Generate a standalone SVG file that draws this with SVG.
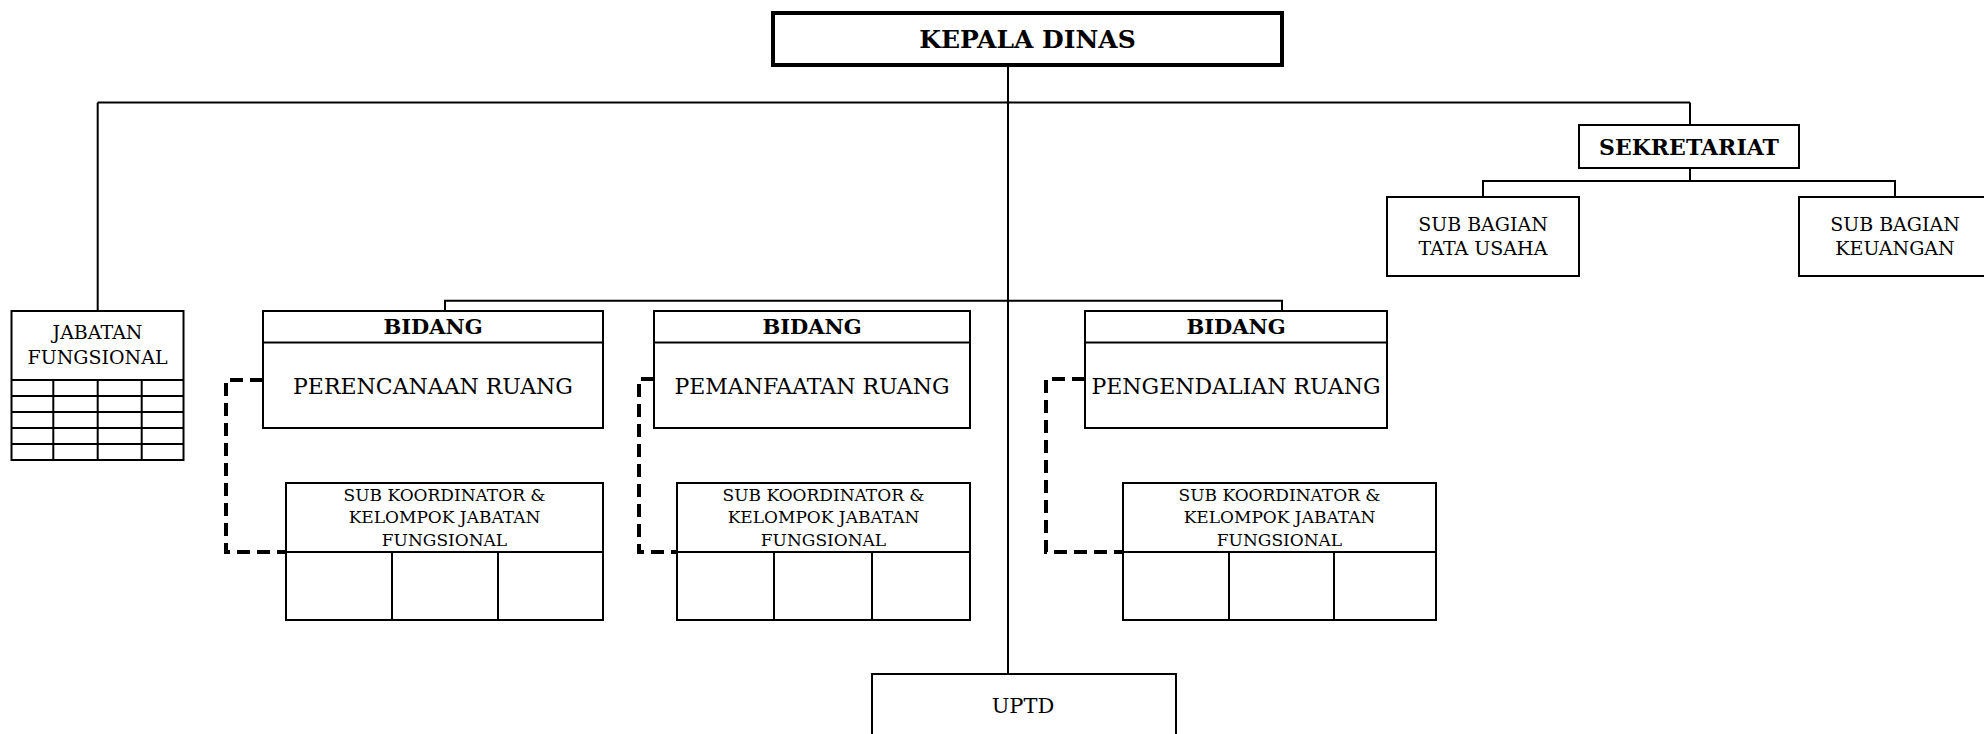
<svg xmlns="http://www.w3.org/2000/svg" width="1984" height="734" viewBox="0 0 1984 734">
<style>
  .box{fill:#fff;stroke:#000;stroke-width:2}
  .thick{fill:#fff;stroke:#000;stroke-width:4}
  .ln{fill:none;stroke:#000;stroke-width:2}
  .dash{fill:none;stroke:#000;stroke-width:4;stroke-dasharray:13 7}
  text{font-family:"DejaVu Serif","Liberation Serif",serif;fill:#000;text-anchor:middle}
  .b{font-weight:bold}
</style>
<rect x="0" y="0" width="1984" height="734" fill="#fff"/>
<g id="connectors">
  <path class="ln" d="M97.7,102.5 H1690 M97.7,102.5 V311 M1690,102.5 V125"/>
  <path class="ln" d="M1008,65 V674"/>
  <path class="ln" d="M445,311 V300.7 H1282 V311"/>
  <path class="ln" d="M1690,168 V181 M1483,197 V181 H1895 V197"/>
  <path class="dash" d="M263,380 H226 V552 H286"/>
  <path class="dash" d="M654,379 H639 V552 H677"/>
  <path class="dash" d="M1085,379 H1046 V552 H1123"/>
</g>
<g id="kepala-dinas">
  <rect class="thick" x="773" y="13" width="509" height="52"/>
  <text class="b" x="1027.5" y="48" font-size="25">KEPALA DINAS</text>
</g>
<g id="sekretariat">
  <rect class="box" x="1579" y="125" width="220" height="43"/>
  <text class="b" x="1689" y="154.5" font-size="22">SEKRETARIAT</text>
</g>
<g id="sub-bagian-tata-usaha">
  <rect class="box" x="1387" y="197" width="192" height="79"/>
  <text x="1483" y="231" font-size="19">SUB BAGIAN</text>
  <text x="1483" y="255" font-size="19">TATA USAHA</text>
</g>
<g id="sub-bagian-keuangan">
  <rect class="box" x="1799" y="197" width="192" height="79"/>
  <text x="1895" y="231" font-size="19">SUB BAGIAN</text>
  <text x="1895" y="255" font-size="19">KEUANGAN</text>
</g>
<g id="jabatan-fungsional">
  <rect class="box" x="11.5" y="311" width="172" height="149"/>
  <text x="97.5" y="339.3" font-size="19">JABATAN</text>
  <text x="97.5" y="364" font-size="19">FUNGSIONAL</text>
  <path class="ln" d="M11.5,380 H183.5 M11.5,396 H183.5 M11.5,412 H183.5 M11.5,428 H183.5 M11.5,444 H183.5 M53.3,380 V460 M97.7,380 V460 M141.7,380 V460"/>
</g>
<g id="bidang-perencanaan">
  <rect class="box" x="263" y="311" width="340" height="117"/>
  <path class="ln" d="M263,342.5 H603"/>
  <text class="b" x="433" y="334.3" font-size="21">BIDANG</text>
  <text x="433" y="394" font-size="22">PERENCANAAN RUANG</text>
</g>
<g id="bidang-pemanfaatan">
  <rect class="box" x="654" y="311" width="316" height="117"/>
  <path class="ln" d="M654,342.5 H970"/>
  <text class="b" x="812" y="334.3" font-size="21">BIDANG</text>
  <text x="812" y="394" font-size="22">PEMANFAATAN RUANG</text>
</g>
<g id="bidang-pengendalian">
  <rect class="box" x="1085" y="311" width="302" height="117"/>
  <path class="ln" d="M1085,342.5 H1387"/>
  <text class="b" x="1236" y="334.3" font-size="21">BIDANG</text>
  <text x="1236" y="394" font-size="22">PENGENDALIAN RUANG</text>
</g>
<g id="subkoor-perencanaan">
  <rect class="box" x="286" y="483" width="317" height="137"/>
  <path class="ln" d="M286,552 H603 M392,552 V620 M498,552 V620"/>
  <text x="444.5" y="501" font-size="17">SUB KOORDINATOR &amp;</text>
  <text x="444.5" y="523" font-size="17">KELOMPOK JABATAN</text>
  <text x="444.5" y="546" font-size="17">FUNGSIONAL</text>
</g>
<g id="subkoor-pemanfaatan">
  <rect class="box" x="677" y="483" width="293" height="137"/>
  <path class="ln" d="M677,552 H970 M774,552 V620 M872,552 V620"/>
  <text x="823.5" y="501" font-size="17">SUB KOORDINATOR &amp;</text>
  <text x="823.5" y="523" font-size="17">KELOMPOK JABATAN</text>
  <text x="823.5" y="546" font-size="17">FUNGSIONAL</text>
</g>
<g id="subkoor-pengendalian">
  <rect class="box" x="1123" y="483" width="313" height="137"/>
  <path class="ln" d="M1123,552 H1436 M1229,552 V620 M1334,552 V620"/>
  <text x="1279.5" y="501" font-size="17">SUB KOORDINATOR &amp;</text>
  <text x="1279.5" y="523" font-size="17">KELOMPOK JABATAN</text>
  <text x="1279.5" y="546" font-size="17">FUNGSIONAL</text>
</g>
<g id="uptd">
  <rect class="box" x="872" y="674" width="304" height="80"/>
  <text x="1023" y="713" font-size="21">UPTD</text>
</g>
</svg>
